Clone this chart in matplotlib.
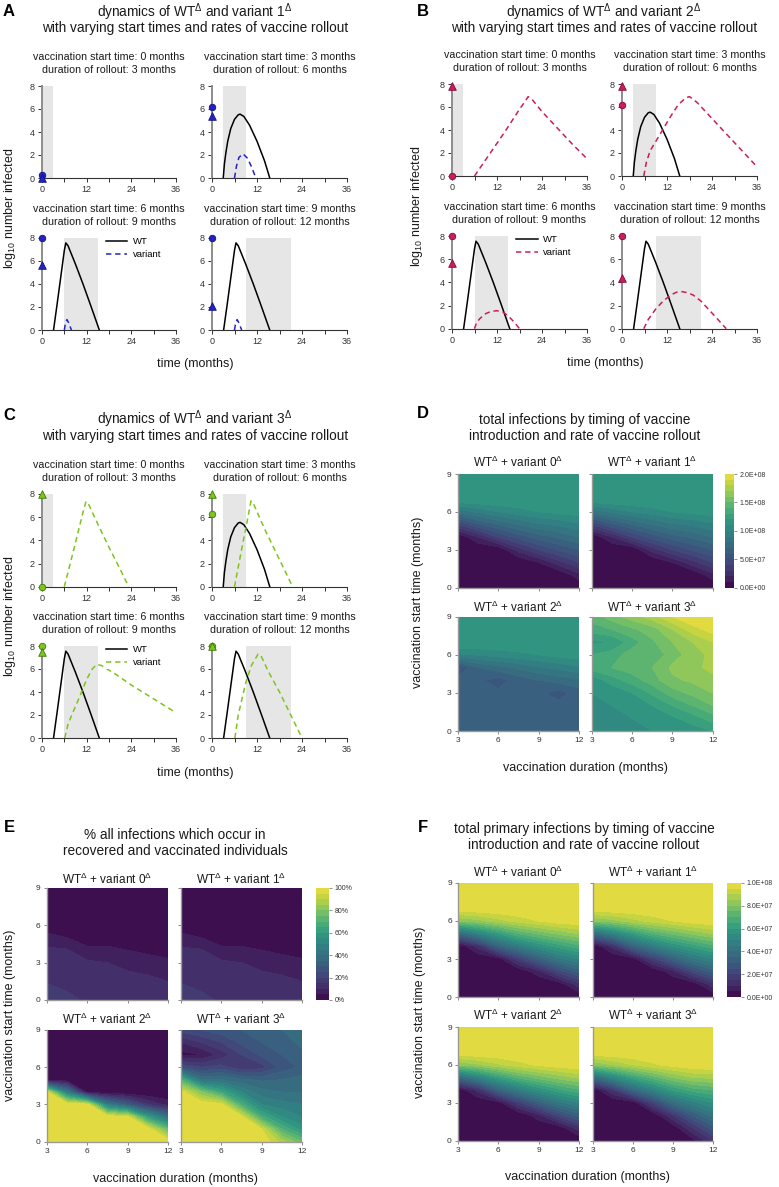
import numpy as np
import matplotlib
matplotlib.use('Agg')
import matplotlib.pyplot as plt
from matplotlib.colors import ListedColormap

plt.rcParams['font.family'] = ['Liberation Sans', 'DejaVu Sans']
plt.rcParams['mathtext.fontset'] = 'custom'
plt.rcParams['mathtext.rm'] = 'Liberation Sans'
plt.rcParams['mathtext.it'] = 'Liberation Sans:italic'
plt.rcParams['mathtext.bf'] = 'Liberation Sans:bold'

# ---------------- data: line panels ----------------
VAX_START = [0, 3, 6, 9]
VAX_DUR = [3, 6, 9, 12]

WT_T_EARLY = [3.0, 3.3, 3.7, 4.2, 5.0, 6.0, 7.0, 7.5, 8.5, 10.0, 12.0, 14.0, 15.4]
WT_Y_EARLY = [0, 1.2, 2.2, 3.2, 4.3, 5.1, 5.5, 5.55, 5.35, 4.6, 3.2, 1.5, 0]
WT_T_LATE = [3.1, 4.0, 5.0, 6.0, 6.4, 7.0, 9.0, 11.0, 13.0, 15.4]
WT_Y_LATE = [0, 2.1, 4.5, 6.9, 7.55, 7.3, 5.7, 4.0, 2.2, 0]
WT_T = [[], WT_T_EARLY, WT_T_LATE, WT_T_LATE]
WT_Y = [[], WT_Y_EARLY, WT_Y_LATE, WT_Y_LATE]

A_VAR_T = [[], [6.0, 6.5, 7.2, 8.3, 9.5, 10.5, 11.7], [6.0, 6.3, 6.7, 7.2, 7.9], [6.0, 6.3, 6.7, 7.2, 7.9]]
A_VAR_Y = [[], [0, 1.0, 1.8, 2.1, 1.7, 1.0, 0], [0, 0.6, 0.9, 0.6, 0], [0, 0.6, 0.9, 0.6, 0]]
A_WT_MARK = [0.3, 6.2, 8.0, 8.0]
A_VAR_MARK = [0.0, 5.4, 5.6, 2.1]

B_VAR_T = [[6.0, 10.0, 14.0, 18.0, 19.5, 20.3, 21.5, 24.0, 28.0, 32.0, 36.0],
           [5.8, 6.5, 7.5, 9.0, 11.0, 13.0, 15.0, 17.0, 18.0, 20.0, 24.0, 28.0, 32.0, 36.0],
           [6.0, 6.5, 7.5, 9.0, 10.5, 12.0, 13.5, 15.0, 16.5, 18.0],
           [5.8, 7.0, 9.0, 11.0, 13.0, 14.5, 16.0, 17.5, 19.0, 21.0, 23.0, 25.0, 27.8]]
B_VAR_Y = [[0, 1.9, 3.8, 5.8, 6.5, 6.9, 6.6, 5.6, 4.2, 2.8, 1.5],
           [0, 1.2, 2.2, 3.0, 4.1, 5.2, 6.2, 6.8, 6.9, 6.4, 5.0, 3.6, 2.2, 0.8],
           [0, 0.5, 0.9, 1.3, 1.5, 1.55, 1.45, 1.1, 0.6, 0],
           [0, 0.8, 1.7, 2.4, 2.9, 3.15, 3.2, 3.1, 2.9, 2.4, 1.7, 1.0, 0]]
B_WT_MARK = [0.0, 6.2, 8.0, 8.0]
B_VAR_MARK = [7.8, 7.8, 5.7, 4.4]

C_VAR_T = [[6.0, 9.0, 11.0, 11.8, 12.4, 15.0, 18.0, 21.0, 23.3],
           [6.0, 7.0, 8.0, 9.0, 10.0, 10.4, 11.0, 14.0, 17.0, 20.0, 21.5],
           [6.1, 7.0, 8.0, 10.0, 12.0, 13.5, 14.7, 16.0, 18.0, 20.0, 24.0, 30.0, 36.0],
           [6.1, 7.0, 8.0, 9.0, 10.5, 12.3, 13.0, 15.0, 18.0, 21.0, 24.0]]
C_VAR_Y = [[0, 3.8, 6.4, 7.35, 7.2, 5.4, 3.4, 1.5, 0],
           [0, 1.7, 3.4, 5.0, 6.7, 7.4, 7.2, 5.0, 3.0, 1.0, 0],
           [0, 1.2, 2.0, 3.5, 5.1, 6.0, 6.4, 6.3, 5.9, 5.5, 4.6, 3.4, 2.2],
           [0, 2.0, 3.4, 4.8, 6.3, 7.3, 7.2, 5.8, 4.0, 2.0, 0]]
C_WT_MARK = [0.0, 6.3, 8.0, 8.0]
C_VAR_MARK = [8.0, 8.0, 7.5, 8.0]

# ---------------- data: heatmaps ----------------
DURATIONS = [3, 4.5, 6, 7.5, 9, 10.5, 12]
STARTS = [0, 1, 2, 3, 4, 5, 6, 7, 8, 9]

# total infections (units of 1e7); each inner list = one duration, values over STARTS
D_VAR0 = [[0, 0, 0, 0, 0, 4.0, 8.2, 12.0, 12.0, 12.0],
          [0, 0, 0, 0, 1.9, 5.8, 9.2, 12.0, 12.0, 12.0],
          [0, 0, 0, 0, 4.0, 7.0, 10.0, 12.0, 12.0, 12.0],
          [0, 0, 0, 2.4, 5.4, 8.0, 10.5, 12.0, 12.0, 12.0],
          [0, 0, 1.0, 4.0, 6.5, 8.8, 11.0, 12.0, 12.0, 12.0],
          [0, 0, 2.6, 5.1, 7.2, 9.2, 11.3, 12.0, 12.0, 12.0],
          [0, 1.6, 4.0, 6.0, 8.0, 9.8, 11.5, 12.0, 12.0, 12.0]]
D_VAR1 = [[0, 0, 0, 0, 0, 4.0, 8.2, 12.0, 12.0, 12.0],
          [0, 0, 0, 0, 1.9, 5.8, 9.2, 12.0, 12.0, 12.0],
          [0, 0, 0, 0, 4.0, 7.0, 10.0, 12.0, 12.0, 12.0],
          [0, 0, 0, 2.4, 5.4, 8.0, 10.5, 12.0, 12.0, 12.0],
          [0, 0, 1.0, 4.0, 6.5, 8.8, 11.0, 12.0, 12.0, 12.0],
          [0, 0, 2.6, 5.1, 7.2, 9.2, 11.3, 12.0, 12.0, 12.0],
          [0, 1.6, 4.0, 6.0, 8.0, 9.8, 11.5, 12.0, 12.0, 12.0]]
D_VAR2 = [[6.3, 6.3, 6.3, 6.3, 6.2, 5.0, 9.8, 12.0, 12.0, 12.0],
          [6.3, 6.3, 6.3, 6.3, 6.2, 7.0, 10.1, 12.0, 12.0, 12.0],
          [6.3, 6.3, 6.3, 6.2, 5.6, 7.6, 10.4, 12.0, 12.0, 12.0],
          [6.3, 6.3, 6.3, 6.2, 6.4, 8.2, 10.7, 12.0, 12.0, 12.0],
          [6.3, 6.3, 6.3, 6.2, 7.0, 8.9, 11.0, 12.0, 12.0, 12.0],
          [6.3, 6.3, 6.3, 5.6, 7.4, 9.3, 11.4, 12.0, 12.0, 12.0],
          [6.3, 6.3, 6.3, 6.5, 7.8, 9.8, 11.6, 12.0, 12.0, 12.0]]
D_VAR3 = [[11.0, 11.0, 11.0, 11.0, 11.3, 13.5, 13.0, 11.8, 13.5, 14.5],
          [11.0, 11.0, 11.0, 11.2, 12.5, 14.0, 13.5, 12.0, 14.0, 15.5],
          [11.0, 11.0, 11.1, 12.0, 13.5, 14.5, 14.5, 13.5, 14.8, 16.5],
          [11.0, 11.2, 12.0, 13.2, 14.5, 15.0, 14.2, 14.8, 15.5, 17.5],
          [11.2, 11.8, 13.0, 14.5, 15.8, 16.2, 15.5, 16.0, 17.0, 19.0],
          [11.5, 12.5, 14.0, 15.3, 16.2, 16.8, 16.5, 17.0, 18.5, 20.0],
          [12.0, 13.5, 15.0, 16.0, 16.8, 17.2, 17.3, 18.0, 19.5, 20.0]]

# % infections in recovered / vaccinated
E_VAR0 = [[18, 16, 13, 12, 11, 7, 2, 0, 0, 0],
          [17, 14, 12, 12, 10.5, 5, 1, 0, 0, 0],
          [14, 12, 12, 11, 6, 3, 1, 0, 0, 0],
          [13, 12, 11, 10, 6, 3, 0, 0, 0, 0],
          [12, 12, 11, 8, 5, 2, 0, 0, 0, 0],
          [12, 11, 10, 7, 4, 1, 0, 0, 0, 0],
          [12, 11, 9, 6, 3, 1, 0, 0, 0, 0]]
E_VAR1 = [[18, 16, 13, 12, 11, 7, 2, 0, 0, 0],
          [17, 14, 12, 12, 10.5, 5, 1, 0, 0, 0],
          [14, 12, 12, 11, 6, 3, 1, 0, 0, 0],
          [13, 12, 11, 10, 6, 3, 0, 0, 0, 0],
          [12, 12, 11, 8, 5, 2, 0, 0, 0, 0],
          [12, 11, 10, 7, 4, 1, 0, 0, 0, 0],
          [12, 11, 9, 6, 3, 1, 0, 0, 0, 0]]
E_VAR2 = [[100, 100, 100, 100, 97, 0, 0, 0, 0, 0],
          [100, 100, 100, 100, 45, 0, 0, 0, 0, 0],
          [100, 100, 100, 98, 3, 0, 0, 0, 0, 0],
          [100, 100, 100, 45, 0, 0, 0, 0, 0, 0],
          [100, 100, 97, 30, 0, 0, 0, 0, 0, 0],
          [100, 100, 60, 15, 0, 0, 0, 0, 0, 0],
          [100, 75, 40, 8, 0, 0, 0, 0, 0, 0]]
E_VAR3 = [[100, 100, 100, 100, 98, 70, 25, 3, 10, 22],
          [100, 100, 100, 100, 80, 40, 20, 5, 15, 25],
          [100, 100, 100, 97, 65, 40, 22, 12, 20, 28],
          [100, 100, 97, 68, 50, 36, 16, 20, 26, 30],
          [100, 95, 67, 50, 42, 34, 18, 26, 30, 33],
          [88, 70, 55, 47, 40, 35, 27, 30, 33, 35],
          [75, 58, 50, 45, 40, 37, 31, 34, 36, 37]]

# total primary infections (units of 1e7)
F_VAR0 = [[0, 0, 0, 0, 0, 3.5, 8.0, 10, 10, 10],
          [0, 0, 0, 0, 1.2, 4.8, 8.3, 10, 10, 10],
          [0, 0, 0, 0.2, 3.3, 6.0, 8.8, 10, 10, 10],
          [0, 0, 0, 1.8, 4.5, 7.0, 9.2, 10, 10, 10],
          [0, 0, 0.8, 3.2, 5.5, 7.6, 9.5, 10, 10, 10],
          [0, 0.1, 2.2, 4.3, 6.2, 8.1, 9.8, 10, 10, 10],
          [0, 1.3, 3.2, 5.0, 6.8, 8.5, 9.9, 10, 10, 10]]
F_VAR1 = [[0, 0, 0, 0, 0, 3.5, 8.0, 10, 10, 10],
          [0, 0, 0, 0, 1.2, 4.8, 8.3, 10, 10, 10],
          [0, 0, 0, 0.2, 3.3, 6.0, 8.8, 10, 10, 10],
          [0, 0, 0, 1.8, 4.5, 7.0, 9.2, 10, 10, 10],
          [0, 0, 0.8, 3.2, 5.5, 7.6, 9.5, 10, 10, 10],
          [0, 0.1, 2.2, 4.3, 6.2, 8.1, 9.8, 10, 10, 10],
          [0, 1.3, 3.2, 5.0, 6.8, 8.5, 9.9, 10, 10, 10]]
F_VAR2 = [[0, 0, 0, 0, 0, 3.5, 8.0, 10, 10, 10],
          [0, 0, 0, 0, 1.2, 4.8, 8.4, 10, 10, 10],
          [0, 0, 0, 0.2, 3.3, 6.1, 8.9, 10, 10, 10],
          [0, 0, 0, 1.8, 4.5, 7.1, 9.3, 10, 10, 10],
          [0, 0, 0.8, 3.2, 5.5, 7.7, 9.6, 10, 10, 10],
          [0, 0.1, 2.2, 4.3, 6.3, 8.2, 9.8, 10, 10, 10],
          [0, 1.3, 3.2, 5.0, 6.9, 8.6, 9.9, 10, 10, 10]]
F_VAR3 = [[0, 0, 0, 0, 0, 3.5, 8.0, 10, 10, 10],
          [0, 0, 0, 0, 1.5, 5.0, 8.5, 10, 10, 10],
          [0, 0, 0, 0.1, 3.5, 6.3, 9.0, 10, 10, 10],
          [0, 0, 0, 2.0, 4.8, 7.2, 9.4, 10, 10, 10],
          [0, 0.1, 1.5, 3.8, 6.0, 8.0, 9.7, 10, 10, 10],
          [0.3, 1.5, 3.0, 4.8, 6.7, 8.5, 9.9, 10, 10, 10],
          [1.5, 2.8, 4.2, 5.5, 7.0, 8.6, 10, 10, 10, 10]]

D_CBAR_TICKS = [0, 5, 10, 15, 20]
D_CBAR_LABELS = ['0.0E+00', '5.0E+07', '1.0E+08', '1.5E+08', '2.0E+08']
E_CBAR_TICKS = [0, 20, 40, 60, 80, 100]
E_CBAR_LABELS = ['0%', '20%', '40%', '60%', '80%', '100%']
F_CBAR_TICKS = [0, 2, 4, 6, 8, 10]
F_CBAR_LABELS = ['0.0E+00', '2.0E+07', '4.0E+07', '6.0E+07', '8.0E+07', '1.0E+08']

# slightly muted viridis, as in the printed figure
_vir = plt.get_cmap('viridis')(np.linspace(0, 1, 256))[:, :3]
_lum = (_vir @ np.array([0.299, 0.587, 0.114]))[:, None]
_muted = _lum + 0.78 * (_vir - _lum)
MUTED_VIRIDIS = ListedColormap(np.clip(_muted * 0.97, 0, 1))

# ---------------- figure ----------------
W, H = 779, 1187
fig = plt.figure(figsize=(W / 100, H / 100), dpi=100)


def ax_px(l, r, t, b):
    return fig.add_axes([l / W, 1 - b / H, (r - l) / W, (b - t) / H])


def txt(x, y, s, **kw):
    kw.setdefault('ha', 'center')
    kw.setdefault('va', 'center')
    fig.text(x / W, 1 - y / H, s, **kw)


TXT_COL = '#1a1a1a'


def line_panel(boxes, sub_ys, var_t, var_y, wt_mark, var_mark, color, edge):
    for i, box in enumerate(boxes):
        ax = ax_px(*box)
        ax.axvspan(VAX_START[i], VAX_START[i] + VAX_DUR[i], color='#e6e6e6', lw=0, zorder=0)
        if WT_T[i]:
            ax.plot(WT_T[i], WT_Y[i], color='black', lw=1.1, zorder=3, label='WT')
        if var_t[i]:
            ax.plot(var_t[i], var_y[i], color=color, lw=1.1, ls=(0, (3.5, 2.5)), zorder=3, label='variant')
        ax.scatter([0], [wt_mark[i]], marker='o', s=22, color=color, edgecolors=edge, linewidths=0.6,
                   clip_on=False, zorder=6)
        ax.scatter([0], [var_mark[i]], marker='^', s=30, color=color, edgecolors=edge, linewidths=0.6,
                   clip_on=False, zorder=6)
        ax.set_xlim(0, 36)
        ax.set_ylim(0, 8)
        ax.set_xticks([0, 12, 24, 36])
        ax.set_xticks([6, 18, 30], minor=True)
        ax.set_yticks([0, 2, 4, 6, 8])
        for s in ['top', 'right']:
            ax.spines[s].set_visible(False)
        ax.spines['left'].set_color('#8c8c8c')
        ax.spines['left'].set_linewidth(1.4)
        ax.spines['bottom'].set_color('#333333')
        ax.spines['bottom'].set_linewidth(0.8)
        ax.tick_params(which='both', length=3, width=0.7, color='#333333', labelsize=6.5,
                       labelcolor='#333333', pad=2)
        cx = (box[0] + box[1]) / 2
        txt(cx, sub_ys[i][0], 'vaccination start time: %d months' % VAX_START[i], fontsize=7.7, color=TXT_COL)
        txt(cx, sub_ys[i][1], 'duration of rollout: %d months' % VAX_DUR[i], fontsize=7.7, color=TXT_COL)
        if i == 2:
            ax.legend(loc='upper left', bbox_to_anchor=(0.46, 1.03), fontsize=6.8, frameon=True,
                      facecolor='white', edgecolor='none', framealpha=1, handlelength=2.3,
                      borderpad=0.2, labelspacing=0.45, handletextpad=0.6, borderaxespad=0.0)


def heat_panel(boxes, title_ys, datas, levels, cbox, cticks, clabels):
    X, Y = np.meshgrid(DURATIONS, STARTS)
    cs = None
    for i, (box, data) in enumerate(zip(boxes, datas)):
        ax = ax_px(*box)
        Z = np.array(data).T
        cs = ax.contourf(X, Y, Z, levels=levels, cmap=MUTED_VIRIDIS)
        ax.set_xlim(3, 12)
        ax.set_ylim(0, 9)
        ax.set_xticks([3, 6, 9, 12])
        ax.set_yticks([0, 3, 6, 9])
        for s in ['top', 'right']:
            ax.spines[s].set_visible(False)
        for s in ['left', 'bottom']:
            ax.spines[s].set_color('#9a9a9a')
            ax.spines[s].set_linewidth(1.0)
        ax.tick_params(length=2.5, width=0.6, color='#777777', labelsize=6, labelcolor='#333333', pad=2)
        if i % 2 == 1:
            ax.tick_params(labelleft=False)
        if i < 2:
            ax.tick_params(labelbottom=False)
        txt((box[0] + box[1]) / 2, title_ys[i], 'WT$^{\\Delta}$ + variant %d$^{\\Delta}$' % i,
            fontsize=8.5, color=TXT_COL)
    cax = ax_px(*cbox)
    cb = fig.colorbar(cs, cax=cax, ticks=cticks)
    cb.ax.set_yticklabels(clabels)
    cb.outline.set_visible(False)
    cb.ax.tick_params(length=2, width=0.5, color='#666666', labelsize=5, labelcolor='#333333', pad=2)


# Panel A
line_panel([(42, 176, 86, 178), (212, 347, 86, 178), (42, 176, 237.7, 330), (212, 347, 237.7, 330)],
           [(57, 70), (57, 70), (209, 222), (209, 222)],
           A_VAR_T, A_VAR_Y, A_WT_MARK, A_VAR_MARK, '#2323c4', '#12127a')
# Panel B
line_panel([(452, 587, 84, 176), (622, 757, 84, 176), (452, 587, 236, 328.7), (622, 757, 236, 328.7)],
           [(55, 68), (55, 68), (206.7, 220), (206.7, 220)],
           B_VAR_T, B_VAR_Y, B_WT_MARK, B_VAR_MARK, '#cc1c60', '#7a0c36')
# Panel C
line_panel([(42, 176, 494, 586.7), (212, 347, 494, 586.7), (42, 176, 646, 738), (212, 347, 646, 738)],
           [(465, 478), (465, 478), (616.7, 630), (616.7, 630)],
           C_VAR_T, C_VAR_Y, C_WT_MARK, C_VAR_MARK, '#7cc41e', '#3f7a0a')

# Panel D
heat_panel([(457.7, 579, 474, 587.7), (591.7, 712.7, 474, 587.7), (457.7, 579, 616.7, 731), (591.7, 712.7, 616.7, 731)],
           [462, 462, 607, 607], [D_VAR0, D_VAR1, D_VAR2, D_VAR3], np.arange(0, 21, 1),
           (725, 734, 474, 587.7), D_CBAR_TICKS, D_CBAR_LABELS)
# Panel E
heat_panel([(46.7, 168, 888, 1000), (181, 302, 888, 1000), (46.7, 168, 1030, 1141.7), (181, 302, 1030, 1141.7)],
           [879, 879, 1019, 1019], [E_VAR0, E_VAR1, E_VAR2, E_VAR3], np.arange(0, 105, 5),
           (316, 329, 888, 1000), E_CBAR_TICKS, E_CBAR_LABELS)
# Panel F
heat_panel([(458, 579, 883, 997), (593, 713, 883, 997), (458, 579, 1027, 1140.7), (593, 713, 1027, 1140.7)],
           [872, 872, 1015, 1015], [F_VAR0, F_VAR1, F_VAR2, F_VAR3], np.arange(0, 10.5, 0.5),
           (727, 741, 883, 997), F_CBAR_TICKS, F_CBAR_LABELS)

# titles
TS = 9.8
txt(195, 12, 'dynamics of WT$^{\\Delta}$ and variant 1$^{\\Delta}$', fontsize=TS, color=TXT_COL)
txt(195, 28, 'with varying start times and rates of vaccine rollout', fontsize=TS, color=TXT_COL)
txt(604, 12, 'dynamics of WT$^{\\Delta}$ and variant 2$^{\\Delta}$', fontsize=TS, color=TXT_COL)
txt(604, 28, 'with varying start times and rates of vaccine rollout', fontsize=TS, color=TXT_COL)
txt(195, 419, 'dynamics of WT$^{\\Delta}$ and variant 3$^{\\Delta}$', fontsize=TS, color=TXT_COL)
txt(195, 436, 'with varying start times and rates of vaccine rollout', fontsize=TS, color=TXT_COL)
txt(585, 420, 'total infections by timing of vaccine', fontsize=TS, color=TXT_COL)
txt(585, 436, 'introduction and rate of vaccine rollout', fontsize=TS, color=TXT_COL)
txt(175, 835, '% all infections which occur in', fontsize=TS, color=TXT_COL)
txt(175, 851, 'recovered and vaccinated individuals', fontsize=TS, color=TXT_COL)
txt(584, 829, 'total primary infections by timing of vaccine', fontsize=TS, color=TXT_COL)
txt(584, 845, 'introduction and rate of vaccine rollout', fontsize=TS, color=TXT_COL)

# axis labels
LS = 9
for x, y in [(195, 364), (605, 363), (195, 773)]:
    txt(x, y, 'time (months)', fontsize=LS, color=TXT_COL)
for x, y in [(10, 208), (417, 206), (10, 616)]:
    txt(x, y, 'log$_{10}$ number infected', fontsize=LS, color=TXT_COL, rotation=90)
for x, y in [(418, 602), (10, 1015), (420, 1012)]:
    txt(x, y, 'vaccination start time (months)', fontsize=LS, color=TXT_COL, rotation=90)
for x, y in [(585, 768), (175, 1179), (587, 1177)]:
    txt(x, y, 'vaccination duration (months)', fontsize=LS, color=TXT_COL)

# panel letters
for x, y, s in [(9, 12, 'A'), (423, 12, 'B'), (9, 415, 'C'), (423, 413, 'D'), (9, 828, 'E'), (423, 828, 'F')]:
    txt(x, y, s, fontsize=12, fontweight='bold', color='black')

fig.savefig('out.png', dpi=100)
